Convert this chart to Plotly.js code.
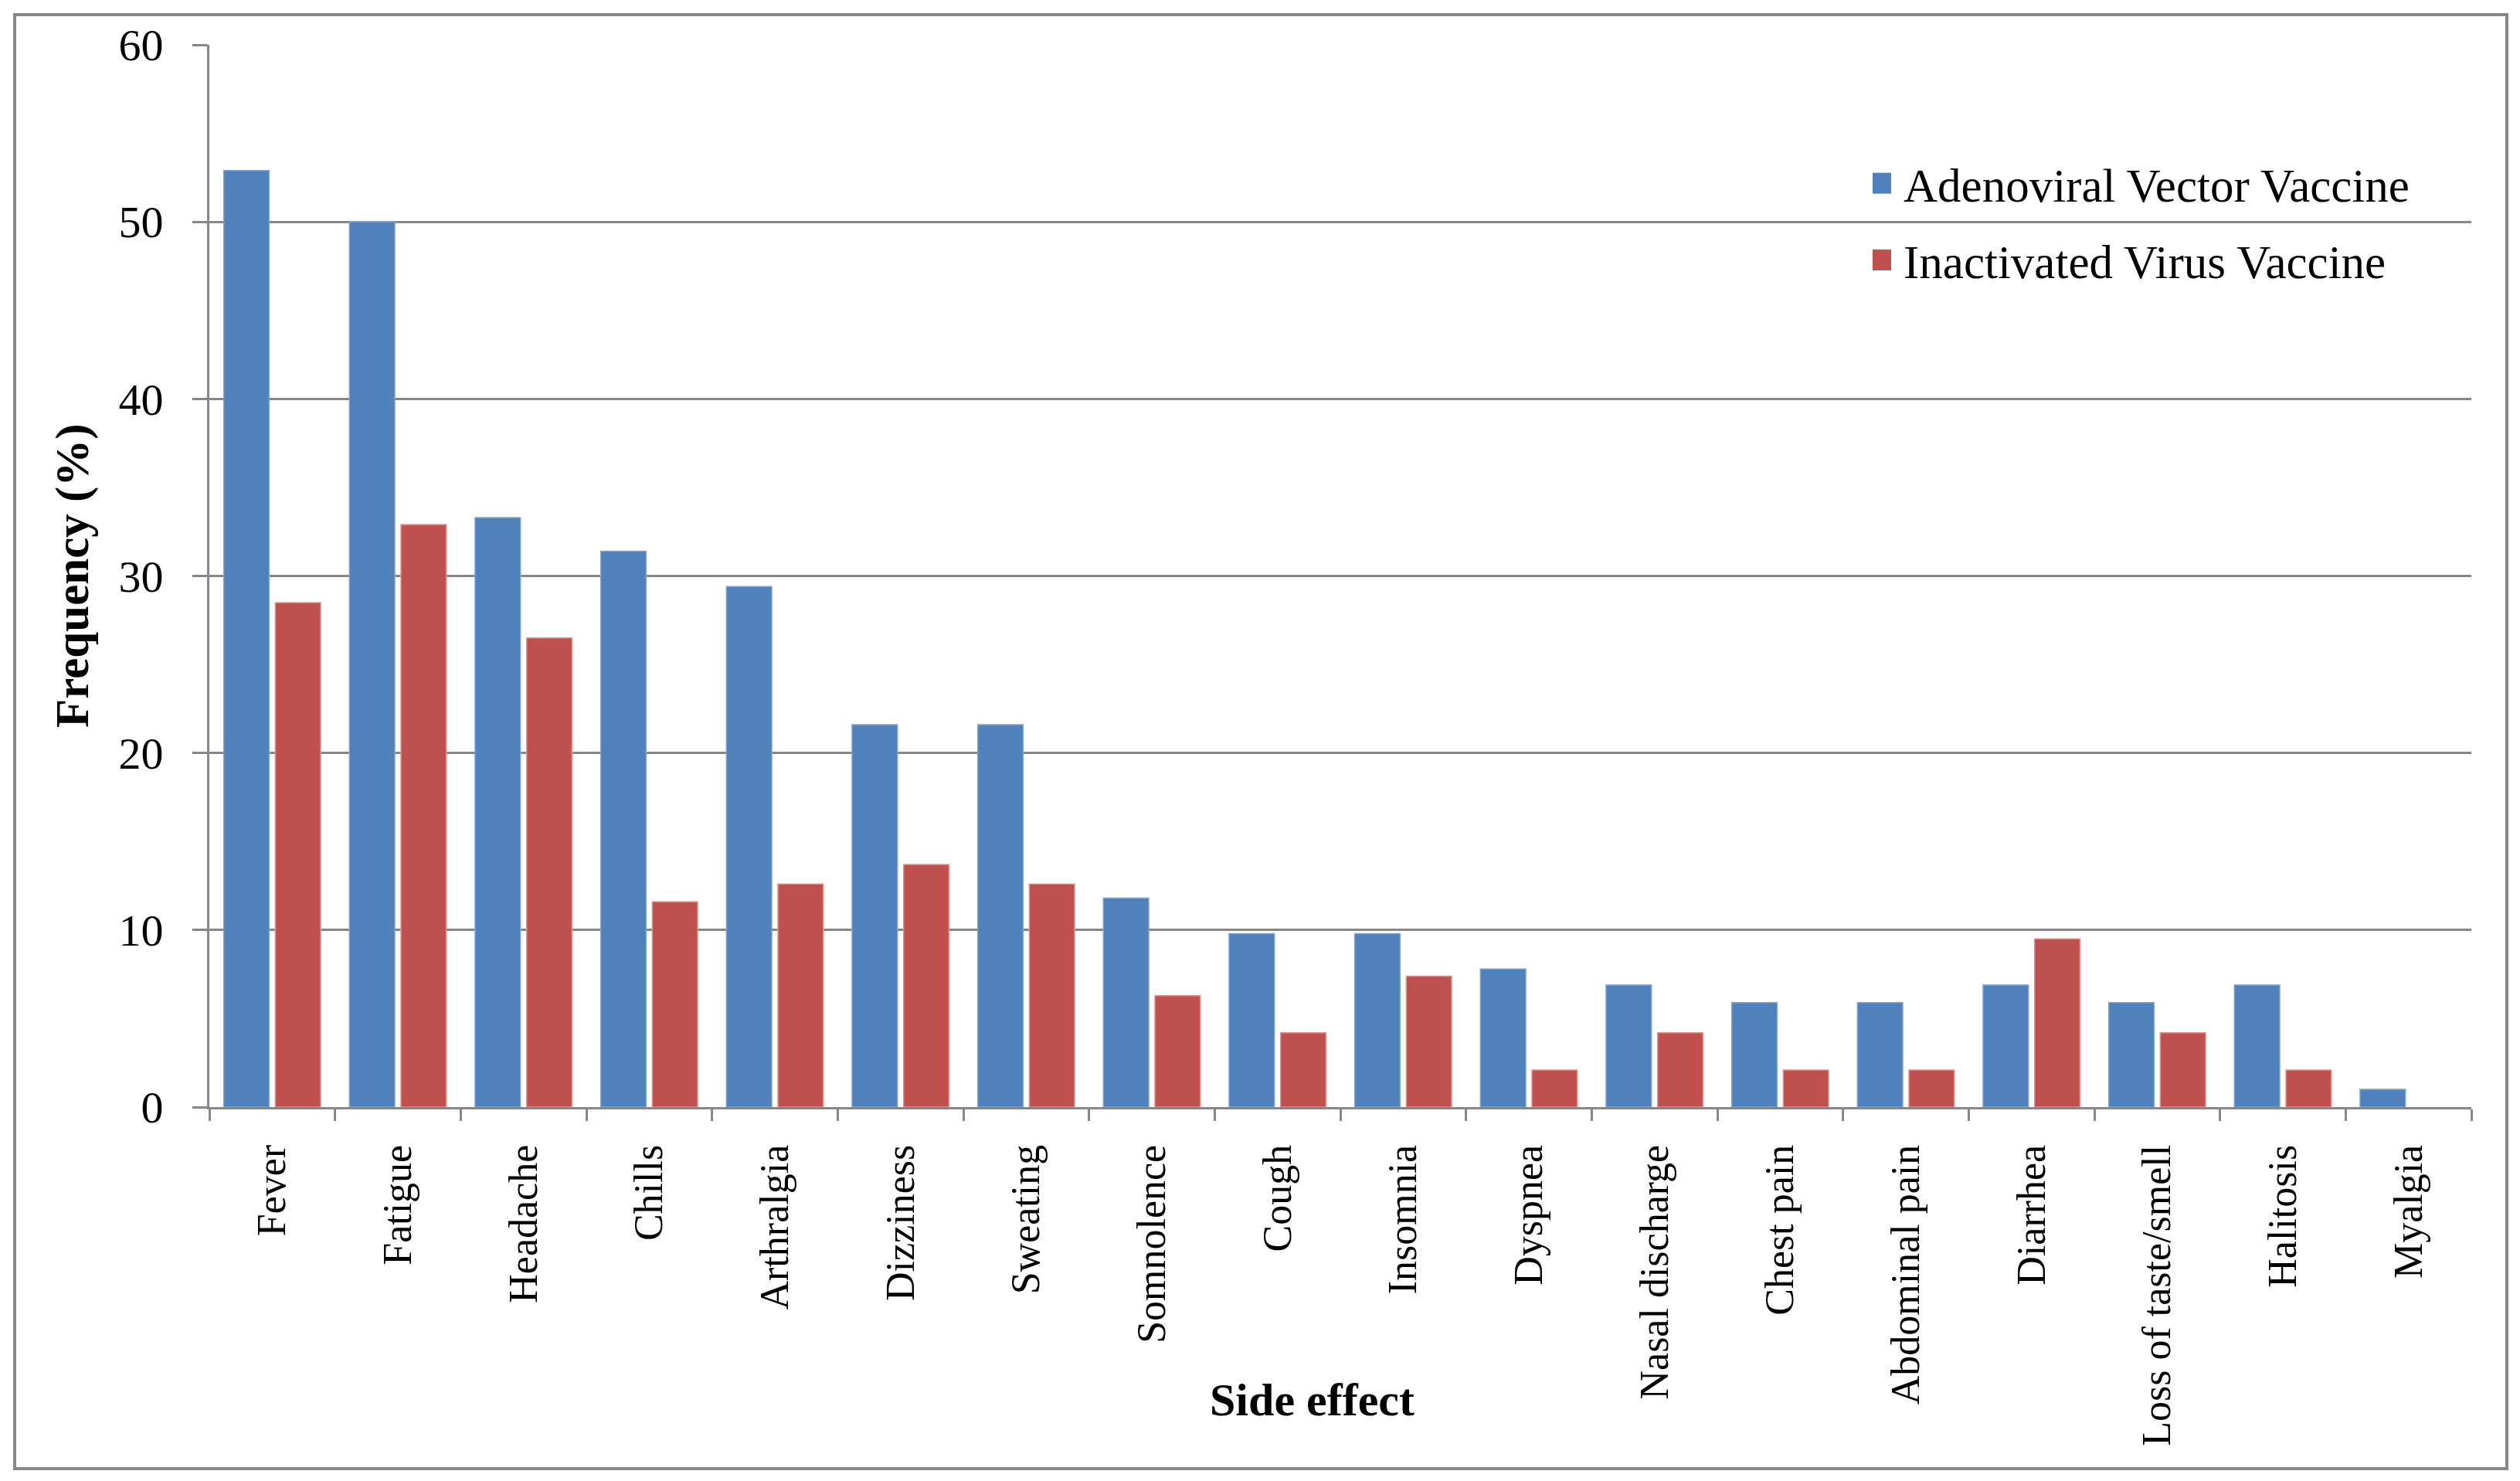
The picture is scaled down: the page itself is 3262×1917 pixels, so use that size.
<!DOCTYPE html>
<html>
<head>
<meta charset="utf-8">
<script src="https://cdn.plot.ly/plotly-3.0.1.min.js"></script>
<style>html,body{margin:0;padding:0;background:#fff;}#chart{width:3262px;height:1917px;}</style>
</head>
<body>
<div id="chart"></div>
<script>
const categories = ["Fever","Fatigue","Headache","Chills","Arthralgia","Dizziness","Sweating","Somnolence","Cough","Insomnia","Dyspnea","Nasal discharge","Chest pain","Abdominal pain","Diarrhea","Loss of taste/smell","Halitosis","Myalgia"];
const adenoviral = [52.9, 50.0, 33.3, 31.4, 29.4, 21.6, 21.6, 11.8, 9.8, 9.8, 7.8, 6.9, 5.9, 5.9, 6.9, 5.9, 6.9, 1.0];
const inactivated = [28.5, 32.9, 26.5, 11.6, 12.6, 13.7, 12.6, 6.3, 4.2, 7.4, 2.1, 4.2, 2.1, 2.1, 9.5, 4.2, 2.1, 0];
const seriesNames = ["Adenoviral Vector Vaccine", "Inactivated Virus Vaccine"];
const yTicks = [0, 10, 20, 30, 40, 50, 60];
const xTitle = "Side effect";
const yTitle = "Frequency (%)";

const FONT = '"Liberation Serif", "Times New Roman", serif';
const GRID = '#878787';
const W = 3262, H = 1917;
const L = 271, R = 63, T = 58, B = 484;
const PW = W - L - R, PH = H - T - B;
const px = v => (v - L) / PW;          // pixel x -> paper x
const py = v => (H - B - v) / PH;      // pixel y -> paper y
const edge = vals => vals.map(v => v > 0 ? 1.5 : 0);

const traces = [
  {type:'bar', name: seriesNames[0], x: categories, y: adenoviral,
   marker:{color:'#4F81BD', line:{color:'#7FA3D1', width: edge(adenoviral)}}, legendgroup:'a'},
  {type:'bar', name: seriesNames[1], x: categories, y: inactivated,
   marker:{color:'#C0504D', line:{color:'#E09593', width: edge(inactivated)}}, legendgroup:'b'}
];

const layout = {
  width: W, height: H,
  margin: {l: L, r: R, t: T, b: B, autoexpand: false},
  paper_bgcolor: '#fff', plot_bgcolor: '#fff',
  font: {family: FONT, color: '#000'},
  barmode: 'group', bargap: 0.18, bargroupgap: 0.12,
  showlegend: true,
  legend: {x: px(2424), y: py(191), xanchor: 'left', yanchor: 'top',
           font: {family: FONT, size: 61, color: '#000'}, traceorder: 'grouped', tracegroupgap: 17,
           bgcolor: 'rgba(0,0,0,0)', itemwidth: 30},
  xaxis: {type: 'category', showline: true, linecolor: GRID, linewidth: 3, ticks: 'outside', tickson: 'boundaries',
          ticklen: 15, tickwidth: 3, tickcolor: GRID, tickangle: -90, tickfont: {family: FONT, size: 52},
          ticklabelstandoff: 25, showgrid: false, zeroline: false, automargin: false},
  yaxis: {range: [0, 60], tickvals: yTicks, ticktext: yTicks.map(String), showline: true, linecolor: GRID, linewidth: 3,
          ticks: 'outside', ticklen: 19, tickwidth: 3, tickcolor: GRID, showgrid: true, gridcolor: GRID, gridwidth: 3,
          zeroline: false, tickfont: {family: FONT, size: 58}, ticklabelstandoff: 26, automargin: false},
  annotations: [
    {text: '<b>' + xTitle + '</b>', xref: 'paper', yref: 'paper', x: px(1698), y: py(1812),
     xanchor: 'center', yanchor: 'middle', showarrow: false, font: {family: FONT, size: 60, color: '#000'}},
    {text: '<b>' + yTitle + '</b>', xref: 'paper', yref: 'paper', x: px(94), y: py(745), textangle: -90,
     xanchor: 'center', yanchor: 'middle', showarrow: false, font: {family: FONT, size: 61, color: '#000'}}
  ],
  shapes: [{type: 'rect', xref: 'paper', yref: 'paper', layer: 'below',
            x0: px(19), x1: px(3245), y0: py(1901), y1: py(19),
            line: {color: GRID, width: 4}, fillcolor: 'rgba(0,0,0,0)'}]
};

Plotly.newPlot('chart', traces, layout, {staticPlot: true, displayModeBar: false}).then(function(){
  document.querySelectorAll('.legend .legendpoints path').forEach(function(p){
    p.setAttribute('d', 'M-27,-13.5h31v27h-31z');
    p.style.strokeWidth = '0px';
  });
});
</script>
</body>
</html>
